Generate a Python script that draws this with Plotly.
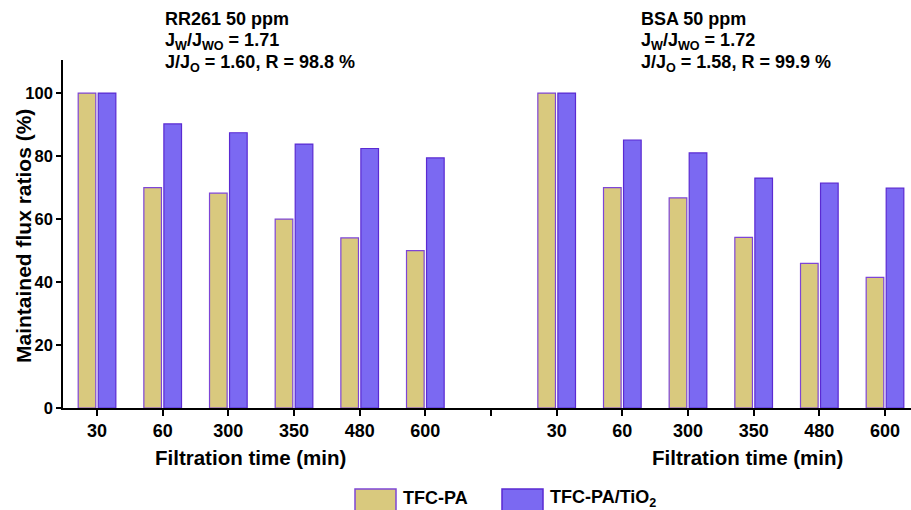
import plotly.graph_objects as go

times = ["30", "60", "300", "350", "480", "600"]
rr261_tfc_pa = [100, 70, 68.2, 60, 54, 50]
rr261_tfc_pa_tio2 = [100, 90.2, 87.4, 83.8, 82.4, 79.4]
bsa_tfc_pa = [100, 70, 66.7, 54.2, 45.9, 41.5]
bsa_tfc_pa_tio2 = [100, 85.1, 81, 73, 71.4, 69.8]
series_names = ["TFC-PA", "TFC-PA/TiO<sub>2</sub>"]
panel_titles = [
    ["RR261 50 ppm", "J<sub>W</sub>/J<sub>WO</sub> = 1.71", "J/J<sub>O</sub> = 1.60, R = 98.8 %"],
    ["BSA 50 ppm", "J<sub>W</sub>/J<sub>WO</sub> = 1.72", "J/J<sub>O</sub> = 1.58, R = 99.9 %"],
]
x_title = "Filtration time (min)"
y_title = "Maintained flux ratios (%)"

FONT = "Arial, Liberation Sans, Helvetica, sans-serif"
KHAKI = "#D9C97E"
KHAKI_LINE = "#7E45D6"
BLUE = "#7B69F2"
BLUE_LINE = "#5A2AD2"

W, H = 911, 510
ML, MR, MT, MB = 63, 0, 60, 102
PW, PH = W - ML - MR, H - MT - MB


def px_x(px):
    return (px - ML) / PW


def px_y(py):
    return (H - MB - py) / PH


n = len(times)
x_left = list(range(n))
x_right = [i + n + 1 for i in range(n)]
xs = x_left + x_right
tickvals = list(range(2 * n + 1))
ticktext = times + [""] + times

fig = go.Figure()
fig.add_trace(go.Bar(
    x=xs, y=rr261_tfc_pa + bsa_tfc_pa, name=series_names[0],
    marker=dict(color=KHAKI, line=dict(color=KHAKI_LINE, width=1.2)),
    showlegend=False,
))
fig.add_trace(go.Bar(
    x=xs, y=rr261_tfc_pa_tio2 + bsa_tfc_pa_tio2, name=series_names[1],
    marker=dict(color=BLUE, line=dict(color=BLUE_LINE, width=1.2)),
    showlegend=False,
))

fig.update_layout(
    width=W, height=H,
    margin=dict(l=ML, r=MR, t=MT, b=MB),
    paper_bgcolor="white", plot_bgcolor="white",
    barmode="group", bargap=0.39, bargroupgap=0.12,
    font=dict(family=FONT, color="black"),
    xaxis=dict(
        range=[-0.518, 12.396], tickmode="array", tickvals=tickvals, ticktext=ticktext,
        showline=True, linecolor="black", linewidth=1.6,
        ticks="outside", ticklen=6, tickwidth=1.6, tickcolor="black",
        showgrid=False, zeroline=False,
        tickfont=dict(size=18, family=FONT, weight="bold"),
    ),
    yaxis=dict(
        range=[0, 110.5], tickvals=[0, 20, 40, 60, 80, 100],
        showline=True, linecolor="black", linewidth=1.6,
        ticks="outside", ticklen=5, tickwidth=1.6, tickcolor="black",
        showgrid=False, zeroline=False,
        tickfont=dict(size=16.5, family=FONT, weight="bold"),
    ),
)

# y-axis title
fig.add_annotation(
    x=px_x(23), y=px_y(236), xref="paper", yref="paper",
    xanchor="center", yanchor="middle", showarrow=False, textangle=-90,
    text=f"<b>{y_title}</b>", font=dict(size=21, family=FONT),
)

# panel titles (one annotation per line for tighter spacing)
line_tops = [7, 28, 50]
for xp, lines in zip([163, 639], panel_titles):
    for top, txt in zip(line_tops, lines):
        fig.add_annotation(
            x=px_x(xp), y=px_y(top), xref="paper", yref="paper",
            xanchor="left", yanchor="top", align="left", showarrow=False,
            text=f"<b>{txt}</b>", font=dict(size=18, family=FONT),
        )

# x-axis titles under each group
for xc in [250, 747]:
    fig.add_annotation(
        x=px_x(xc), y=px_y(457), xref="paper", yref="paper",
        xanchor="center", yanchor="middle", showarrow=False,
        text=f"<b>{x_title}</b>", font=dict(size=20.5, family=FONT),
    )

# legend (swatches + labels)
legend_items = [(355, 401, KHAKI, KHAKI_LINE), (502, 548, BLUE, BLUE_LINE)]
for (sx, tx, fc, lc), name in zip(legend_items, series_names):
    fig.add_shape(
        type="rect", xref="paper", yref="paper",
        x0=px_x(sx), x1=px_x(sx + 41), y0=px_y(513), y1=px_y(489),
        fillcolor=fc, line=dict(color=lc, width=1.5),
    )
    fig.add_annotation(
        x=px_x(tx), y=px_y(498), xref="paper", yref="paper",
        xanchor="left", yanchor="middle", showarrow=False,
        text=f"<b>{name}</b>", font=dict(size=18, family=FONT),
    )

fig.write_html("out.html")
